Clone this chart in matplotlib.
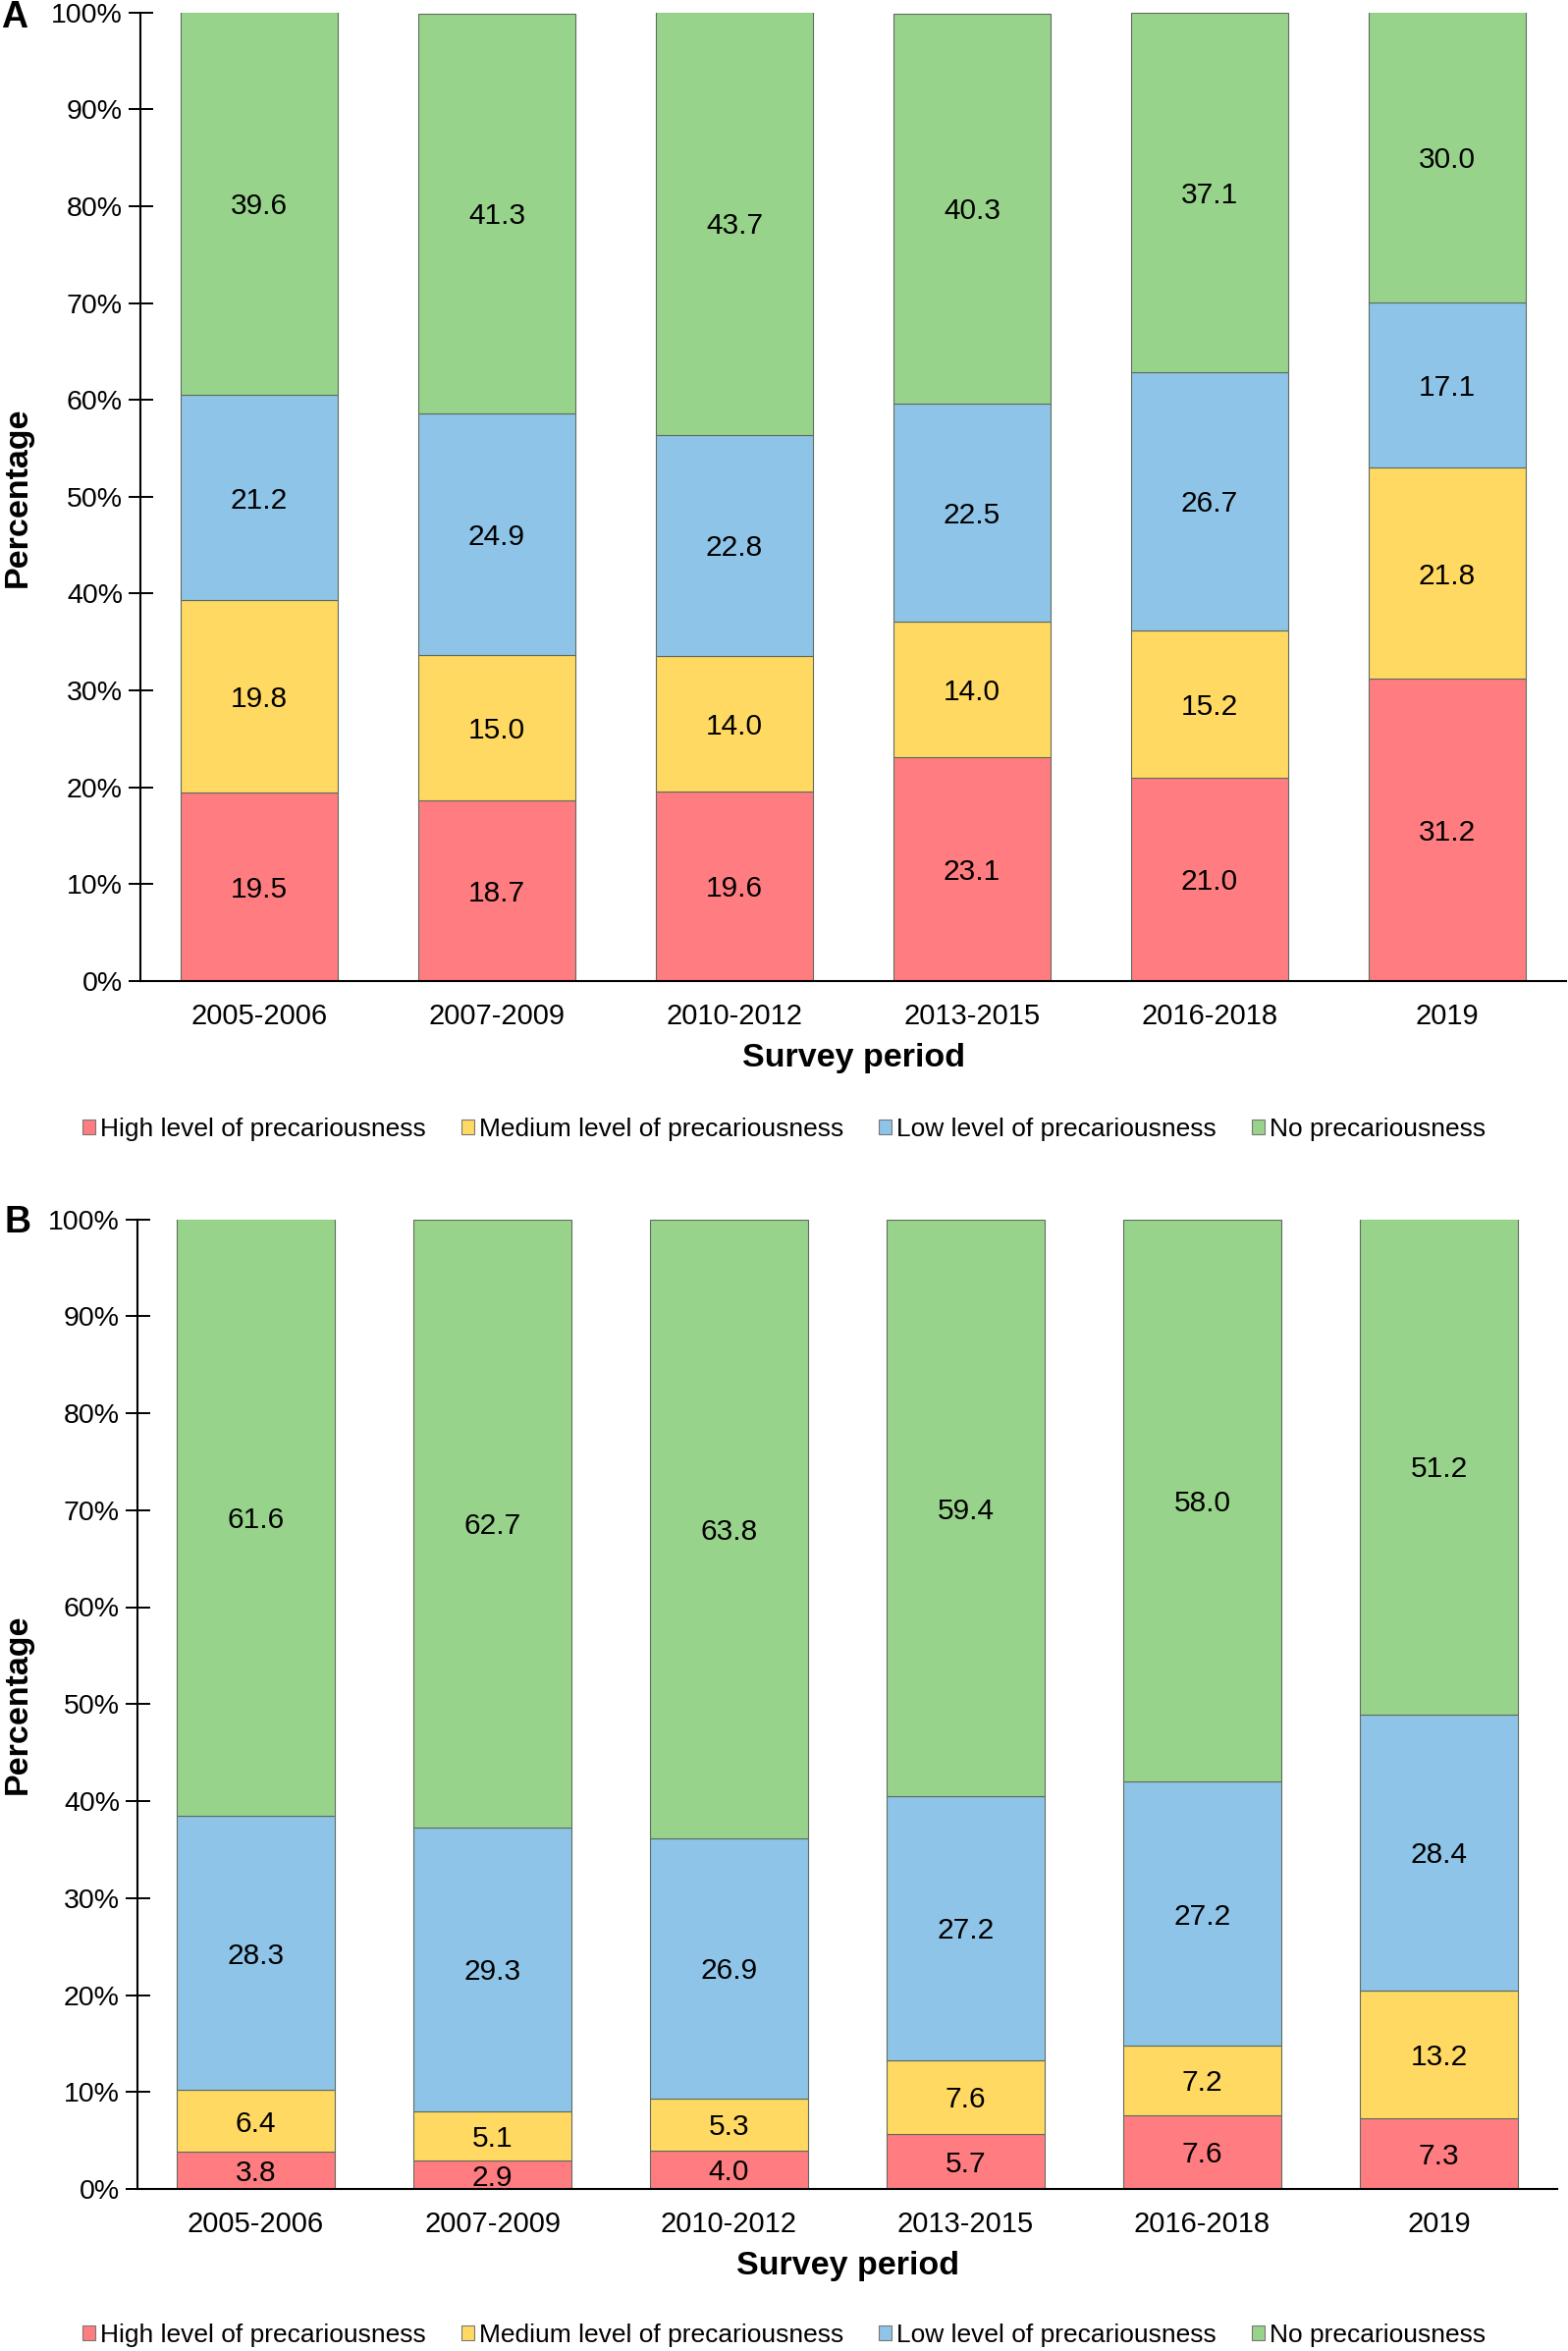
import matplotlib
matplotlib.use("Agg")
import matplotlib.pyplot as plt
from matplotlib.patches import Patch
from matplotlib.ticker import PercentFormatter
import numpy as np

plt.rcParams["font.family"] = ["Liberation Sans", "DejaVu Sans"]

periods = ["2005-2006", "2007-2009", "2010-2012", "2013-2015", "2016-2018", "2019"]
levels = ["High level of precariousness", "Medium level of precariousness",
          "Low level of precariousness", "No precariousness"]
colours = ["#FF7C80", "#FFD961", "#8EC4E7", "#98D38B"]

# panel A
high_a = [19.5, 18.7, 19.6, 23.1, 21.0, 31.2]
medium_a = [19.8, 15.0, 14.0, 14.0, 15.2, 21.8]
low_a = [21.2, 24.9, 22.8, 22.5, 26.7, 17.1]
none_a = [39.6, 41.3, 43.7, 40.3, 37.1, 30.0]

# panel B
high_b = [3.8, 2.9, 4.0, 5.7, 7.6, 7.3]
medium_b = [6.4, 5.1, 5.3, 7.6, 7.2, 13.2]
low_b = [28.3, 29.3, 26.9, 27.2, 27.2, 28.4]
none_b = [61.6, 62.7, 63.8, 59.4, 58.0, 51.2]

W, H = 1597, 2394
fig = plt.figure(figsize=(W / 100, H / 100), dpi=100)


def draw_panel(rect, series, letter, letter_xy, legend_y):
    ax = fig.add_axes(rect)
    x = np.arange(len(periods))
    bottom = np.zeros(len(periods))
    for vals, col in zip(series, colours):
        vals = np.array(vals)
        bars = ax.bar(x, vals, 0.665, bottom=bottom, color=col,
                      edgecolor="#5f6b5f", linewidth=0.8)
        for b, v, y0 in zip(bars, vals, bottom):
            ax.text(b.get_x() + b.get_width() / 2, y0 + v / 2, f"{v:.1f}",
                    ha="center", va="center_baseline", fontsize=21.5)
        bottom += vals
    ax.set_xlim(-0.5, len(periods) - 0.5)
    ax.set_ylim(0, 100)
    ax.set_yticks(np.arange(0, 101, 10))
    ax.yaxis.set_major_formatter(PercentFormatter(decimals=0))
    ax.set_xticks(x)
    ax.set_xticklabels(periods)
    ax.tick_params(axis="y", direction="inout", length=18, width=1.4,
                   labelsize=20.5, pad=4)
    ax.tick_params(axis="x", length=0, labelsize=21, pad=16)
    for s in ["top", "right"]:
        ax.spines[s].set_visible(False)
    for s in ["left", "bottom"]:
        ax.spines[s].set_linewidth(1.5)
    ax.set_xlabel("Survey period", fontsize=24.5, fontweight="bold", labelpad=9)
    ax.set_ylabel("Percentage", fontsize=24.5, fontweight="bold")
    ax.yaxis.set_label_coords(-(rect[0] * W - 34) / (rect[2] * W), 0.5)
    fig.text(letter_xy[0] / W, 1 - letter_xy[1] / H, letter, fontsize=27,
             fontweight="bold", ha="center", va="center")
    handles = [Patch(facecolor=c, edgecolor="#777777", linewidth=0.8) for c in colours]
    fig.legend(handles, levels, loc="center", bbox_to_anchor=(0.5, 1 - legend_y / H),
               ncol=4, frameon=False, fontsize=19, handlelength=0.5,
               handleheight=0.5, handletextpad=0.2, columnspacing=1.35)
    return ax


top_a, bot_a = 12.7, 999
draw_panel([143 / W, 1 - bot_a / H, 6 * 242 / W, (bot_a - top_a) / H],
           [high_a, medium_a, low_a, none_a], "A", (15, 18), 1150)

top_b, bot_b = 1241.5, 2229
draw_panel([140 / W, 1 - bot_b / H, 6 * 241 / W, (bot_b - top_b) / H],
           [high_b, medium_b, low_b, none_b], "B", (18, 1245), 2378)

fig.savefig("out.png", dpi=100)
